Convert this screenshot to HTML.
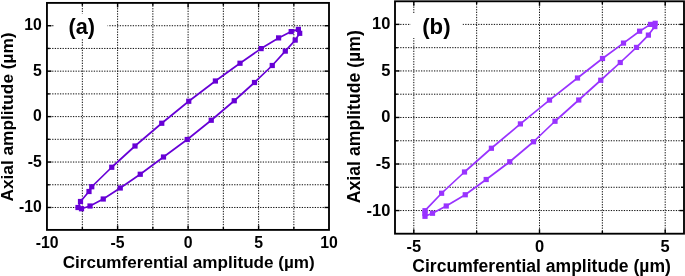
<!DOCTYPE html><html><head><meta charset="utf-8"><style>html,body{margin:0;padding:0;background:#fff}svg{display:block}text{font-family:"Liberation Sans",sans-serif;font-weight:bold;fill:#000}</style></head><body>
<svg style="will-change:transform" width="685" height="276" viewBox="0 0 685 276">
<rect width="685" height="276" fill="#fff"/>
<g stroke="#000" stroke-width="0.95" stroke-dasharray="1.3 1.3" fill="none">
<line x1="82.35" y1="2.9" x2="82.35" y2="229.9"/>
<line x1="117.60" y1="2.9" x2="117.60" y2="229.9"/>
<line x1="152.85" y1="2.9" x2="152.85" y2="229.9"/>
<line x1="188.10" y1="2.9" x2="188.10" y2="229.9"/>
<line x1="223.35" y1="2.9" x2="223.35" y2="229.9"/>
<line x1="258.60" y1="2.9" x2="258.60" y2="229.9"/>
<line x1="293.85" y1="2.9" x2="293.85" y2="229.9"/>
<line x1="46.95" y1="25.72" x2="329.0" y2="25.72"/>
<line x1="46.95" y1="48.44" x2="329.0" y2="48.44"/>
<line x1="46.95" y1="71.16" x2="329.0" y2="71.16"/>
<line x1="46.95" y1="93.88" x2="329.0" y2="93.88"/>
<line x1="46.95" y1="116.60" x2="329.0" y2="116.60"/>
<line x1="46.95" y1="139.32" x2="329.0" y2="139.32"/>
<line x1="46.95" y1="162.04" x2="329.0" y2="162.04"/>
<line x1="46.95" y1="184.76" x2="329.0" y2="184.76"/>
<line x1="46.95" y1="207.48" x2="329.0" y2="207.48"/>
</g>
<rect x="54" y="13.6" width="53.6" height="24.4" fill="#fff"/>
<path d="M78.00 207.50 L80.50 201.50 L89.00 191.50 L91.75 186.75 L111.75 167.25 L135.00 146.00 L161.75 123.25 L188.75 101.25 L215.40 81.00 L240.00 63.25 L261.10 48.60 L278.60 37.90 L291.20 31.60 L298.40 29.40 L299.70 33.30 L295.20 40.10 L285.30 51.10 L272.25 65.50 L254.50 82.50 L234.25 100.75 L211.25 120.25 L187.25 139.50 L163.50 157.00 L140.25 174.25 L120.25 188.00 L103.25 199.00 L90.00 206.00 L81.50 208.75 Z" fill="none" stroke="#6700d6" stroke-width="1.7" stroke-linejoin="round"/>
<g fill="#6700d6">
<rect x="75.40" y="204.90" width="5.2" height="5.2"/>
<rect x="77.90" y="198.90" width="5.2" height="5.2"/>
<rect x="86.40" y="188.90" width="5.2" height="5.2"/>
<rect x="89.15" y="184.15" width="5.2" height="5.2"/>
<rect x="109.15" y="164.65" width="5.2" height="5.2"/>
<rect x="132.40" y="143.40" width="5.2" height="5.2"/>
<rect x="159.15" y="120.65" width="5.2" height="5.2"/>
<rect x="186.15" y="98.65" width="5.2" height="5.2"/>
<rect x="212.80" y="78.40" width="5.2" height="5.2"/>
<rect x="237.40" y="60.65" width="5.2" height="5.2"/>
<rect x="258.50" y="46.00" width="5.2" height="5.2"/>
<rect x="276.00" y="35.30" width="5.2" height="5.2"/>
<rect x="288.60" y="29.00" width="5.2" height="5.2"/>
<rect x="295.80" y="26.80" width="5.2" height="5.2"/>
<rect x="297.10" y="30.70" width="5.2" height="5.2"/>
<rect x="292.60" y="37.50" width="5.2" height="5.2"/>
<rect x="282.70" y="48.50" width="5.2" height="5.2"/>
<rect x="269.65" y="62.90" width="5.2" height="5.2"/>
<rect x="251.90" y="79.90" width="5.2" height="5.2"/>
<rect x="231.65" y="98.15" width="5.2" height="5.2"/>
<rect x="208.65" y="117.65" width="5.2" height="5.2"/>
<rect x="184.65" y="136.90" width="5.2" height="5.2"/>
<rect x="160.90" y="154.40" width="5.2" height="5.2"/>
<rect x="137.65" y="171.65" width="5.2" height="5.2"/>
<rect x="117.65" y="185.40" width="5.2" height="5.2"/>
<rect x="100.65" y="196.40" width="5.2" height="5.2"/>
<rect x="87.40" y="203.40" width="5.2" height="5.2"/>
<rect x="78.90" y="206.15" width="5.2" height="5.2"/>
</g>
<g stroke="#000" stroke-width="1.4" fill="none">
<line x1="82.35" y1="229.9" x2="82.35" y2="227.1"/>
<line x1="82.35" y1="2.9" x2="82.35" y2="5.699999999999999"/>
<line x1="117.60" y1="229.9" x2="117.60" y2="225.4"/>
<line x1="117.60" y1="2.9" x2="117.60" y2="7.4"/>
<line x1="152.85" y1="229.9" x2="152.85" y2="227.1"/>
<line x1="152.85" y1="2.9" x2="152.85" y2="5.699999999999999"/>
<line x1="188.10" y1="229.9" x2="188.10" y2="225.4"/>
<line x1="188.10" y1="2.9" x2="188.10" y2="7.4"/>
<line x1="223.35" y1="229.9" x2="223.35" y2="227.1"/>
<line x1="223.35" y1="2.9" x2="223.35" y2="5.699999999999999"/>
<line x1="258.60" y1="229.9" x2="258.60" y2="225.4"/>
<line x1="258.60" y1="2.9" x2="258.60" y2="7.4"/>
<line x1="293.85" y1="229.9" x2="293.85" y2="227.1"/>
<line x1="293.85" y1="2.9" x2="293.85" y2="5.699999999999999"/>
<line x1="46.95" y1="25.72" x2="51.45" y2="25.72"/>
<line x1="329.0" y1="25.72" x2="324.5" y2="25.72"/>
<line x1="46.95" y1="48.44" x2="49.75" y2="48.44"/>
<line x1="329.0" y1="48.44" x2="326.2" y2="48.44"/>
<line x1="46.95" y1="71.16" x2="51.45" y2="71.16"/>
<line x1="329.0" y1="71.16" x2="324.5" y2="71.16"/>
<line x1="46.95" y1="93.88" x2="49.75" y2="93.88"/>
<line x1="329.0" y1="93.88" x2="326.2" y2="93.88"/>
<line x1="46.95" y1="116.60" x2="51.45" y2="116.60"/>
<line x1="329.0" y1="116.60" x2="324.5" y2="116.60"/>
<line x1="46.95" y1="139.32" x2="49.75" y2="139.32"/>
<line x1="329.0" y1="139.32" x2="326.2" y2="139.32"/>
<line x1="46.95" y1="162.04" x2="51.45" y2="162.04"/>
<line x1="329.0" y1="162.04" x2="324.5" y2="162.04"/>
<line x1="46.95" y1="184.76" x2="49.75" y2="184.76"/>
<line x1="329.0" y1="184.76" x2="326.2" y2="184.76"/>
<line x1="46.95" y1="207.48" x2="51.45" y2="207.48"/>
<line x1="329.0" y1="207.48" x2="324.5" y2="207.48"/>
</g>
<rect x="46.95" y="2.9" width="282.05" height="227.0" fill="none" stroke="#000" stroke-width="1.85"/>
<text x="81.7" y="33.6" font-size="21.7" text-anchor="middle">(a)</text>
<text transform="translate(41.9 30.32) scale(0.935 1)" font-size="16.9" text-anchor="end">10</text>
<text transform="translate(41.9 75.76) scale(0.935 1)" font-size="16.9" text-anchor="end">5</text>
<text transform="translate(41.9 121.20) scale(0.935 1)" font-size="16.9" text-anchor="end">0</text>
<text transform="translate(41.9 166.64) scale(0.935 1)" font-size="16.9" text-anchor="end">-5</text>
<text transform="translate(41.9 212.08) scale(0.935 1)" font-size="16.9" text-anchor="end">-10</text>
<text transform="translate(47.10 247.8) scale(0.925 1)" font-size="17.1" text-anchor="middle">-10</text>
<text transform="translate(117.60 247.8) scale(0.925 1)" font-size="17.1" text-anchor="middle">-5</text>
<text transform="translate(188.10 247.8) scale(0.925 1)" font-size="17.1" text-anchor="middle">0</text>
<text transform="translate(258.60 247.8) scale(0.925 1)" font-size="17.1" text-anchor="middle">5</text>
<text transform="translate(329.10 247.8) scale(0.925 1)" font-size="17.1" text-anchor="middle">10</text>
<text x="188.7" y="268.0" font-size="17.1" text-anchor="middle">Circumferential amplitude (µm)</text>
<text transform="translate(12.6 117.0) rotate(-90)" font-size="17.25" text-anchor="middle">Axial amplitude (µm)</text>
<g stroke="#000" stroke-width="0.95" stroke-dasharray="1.3 1.3" fill="none">
<line x1="413.80" y1="1.3" x2="413.80" y2="233.7"/>
<line x1="476.65" y1="1.3" x2="476.65" y2="233.7"/>
<line x1="539.50" y1="1.3" x2="539.50" y2="233.7"/>
<line x1="602.35" y1="1.3" x2="602.35" y2="233.7"/>
<line x1="665.20" y1="1.3" x2="665.20" y2="233.7"/>
<line x1="395.0" y1="24.40" x2="684.0" y2="24.40"/>
<line x1="395.0" y1="47.67" x2="684.0" y2="47.67"/>
<line x1="395.0" y1="70.94" x2="684.0" y2="70.94"/>
<line x1="395.0" y1="94.21" x2="684.0" y2="94.21"/>
<line x1="395.0" y1="117.48" x2="684.0" y2="117.48"/>
<line x1="395.0" y1="140.75" x2="684.0" y2="140.75"/>
<line x1="395.0" y1="164.02" x2="684.0" y2="164.02"/>
<line x1="395.0" y1="187.29" x2="684.0" y2="187.29"/>
<line x1="395.0" y1="210.56" x2="684.0" y2="210.56"/>
</g>
<rect x="410.5" y="13" width="52" height="25" fill="#fff"/>
<path d="M425.00 210.70 L441.60 193.25 L464.50 172.00 L491.40 148.25 L520.40 123.90 L549.50 100.10 L577.50 78.00 L602.50 58.50 L623.50 43.10 L639.60 31.20 L650.50 24.40 L655.20 23.30 L654.80 26.60 L648.40 35.10 L636.50 47.40 L620.25 62.50 L600.75 80.25 L578.75 100.00 L555.00 121.25 L533.50 141.75 L509.75 161.75 L486.20 179.50 L465.25 194.75 L446.25 206.00 L432.50 213.25 L425.00 216.30 L425.00 213.50 Z" fill="none" stroke="#9933ff" stroke-width="1.7" stroke-linejoin="round"/>
<g fill="#9933ff">
<rect x="422.40" y="208.10" width="5.2" height="5.2"/>
<rect x="439.00" y="190.65" width="5.2" height="5.2"/>
<rect x="461.90" y="169.40" width="5.2" height="5.2"/>
<rect x="488.80" y="145.65" width="5.2" height="5.2"/>
<rect x="517.80" y="121.30" width="5.2" height="5.2"/>
<rect x="546.90" y="97.50" width="5.2" height="5.2"/>
<rect x="574.90" y="75.40" width="5.2" height="5.2"/>
<rect x="599.90" y="55.90" width="5.2" height="5.2"/>
<rect x="620.90" y="40.50" width="5.2" height="5.2"/>
<rect x="637.00" y="28.60" width="5.2" height="5.2"/>
<rect x="647.90" y="21.80" width="5.2" height="5.2"/>
<rect x="652.60" y="20.70" width="5.2" height="5.2"/>
<rect x="652.20" y="24.00" width="5.2" height="5.2"/>
<rect x="645.80" y="32.50" width="5.2" height="5.2"/>
<rect x="633.90" y="44.80" width="5.2" height="5.2"/>
<rect x="617.65" y="59.90" width="5.2" height="5.2"/>
<rect x="598.15" y="77.65" width="5.2" height="5.2"/>
<rect x="576.15" y="97.40" width="5.2" height="5.2"/>
<rect x="552.40" y="118.65" width="5.2" height="5.2"/>
<rect x="530.90" y="139.15" width="5.2" height="5.2"/>
<rect x="507.15" y="159.15" width="5.2" height="5.2"/>
<rect x="483.60" y="176.90" width="5.2" height="5.2"/>
<rect x="462.65" y="192.15" width="5.2" height="5.2"/>
<rect x="443.65" y="203.40" width="5.2" height="5.2"/>
<rect x="429.90" y="210.65" width="5.2" height="5.2"/>
<rect x="422.40" y="213.70" width="5.2" height="5.2"/>
<rect x="422.40" y="210.90" width="5.2" height="5.2"/>
</g>
<g stroke="#000" stroke-width="1.4" fill="none">
<line x1="413.80" y1="233.7" x2="413.80" y2="229.2"/>
<line x1="413.80" y1="1.3" x2="413.80" y2="5.8"/>
<line x1="476.65" y1="233.7" x2="476.65" y2="230.89999999999998"/>
<line x1="476.65" y1="1.3" x2="476.65" y2="4.1"/>
<line x1="539.50" y1="233.7" x2="539.50" y2="229.2"/>
<line x1="539.50" y1="1.3" x2="539.50" y2="5.8"/>
<line x1="602.35" y1="233.7" x2="602.35" y2="230.89999999999998"/>
<line x1="602.35" y1="1.3" x2="602.35" y2="4.1"/>
<line x1="665.20" y1="233.7" x2="665.20" y2="229.2"/>
<line x1="665.20" y1="1.3" x2="665.20" y2="5.8"/>
<line x1="395.0" y1="24.40" x2="399.5" y2="24.40"/>
<line x1="684.0" y1="24.40" x2="679.5" y2="24.40"/>
<line x1="395.0" y1="47.67" x2="397.8" y2="47.67"/>
<line x1="684.0" y1="47.67" x2="681.2" y2="47.67"/>
<line x1="395.0" y1="70.94" x2="399.5" y2="70.94"/>
<line x1="684.0" y1="70.94" x2="679.5" y2="70.94"/>
<line x1="395.0" y1="94.21" x2="397.8" y2="94.21"/>
<line x1="684.0" y1="94.21" x2="681.2" y2="94.21"/>
<line x1="395.0" y1="117.48" x2="399.5" y2="117.48"/>
<line x1="684.0" y1="117.48" x2="679.5" y2="117.48"/>
<line x1="395.0" y1="140.75" x2="397.8" y2="140.75"/>
<line x1="684.0" y1="140.75" x2="681.2" y2="140.75"/>
<line x1="395.0" y1="164.02" x2="399.5" y2="164.02"/>
<line x1="684.0" y1="164.02" x2="679.5" y2="164.02"/>
<line x1="395.0" y1="187.29" x2="397.8" y2="187.29"/>
<line x1="684.0" y1="187.29" x2="681.2" y2="187.29"/>
<line x1="395.0" y1="210.56" x2="399.5" y2="210.56"/>
<line x1="684.0" y1="210.56" x2="679.5" y2="210.56"/>
</g>
<rect x="395.0" y="1.3" width="289.0" height="232.39999999999998" fill="none" stroke="#000" stroke-width="1.85"/>
<text x="436.4" y="33.5" font-size="22.2" text-anchor="middle">(b)</text>
<text transform="translate(390.4 29.35) scale(0.96 1)" font-size="17.15" text-anchor="end">10</text>
<text transform="translate(390.4 75.89) scale(0.96 1)" font-size="17.15" text-anchor="end">5</text>
<text transform="translate(390.4 122.43) scale(0.96 1)" font-size="17.15" text-anchor="end">0</text>
<text transform="translate(390.4 168.97) scale(0.96 1)" font-size="17.15" text-anchor="end">-5</text>
<text transform="translate(390.4 215.51) scale(0.96 1)" font-size="17.15" text-anchor="end">-10</text>
<text transform="translate(413.80 251.9) scale(0.96 1)" font-size="17.15" text-anchor="middle">-5</text>
<text transform="translate(539.50 251.9) scale(0.96 1)" font-size="17.15" text-anchor="middle">0</text>
<text transform="translate(665.20 251.9) scale(0.96 1)" font-size="17.15" text-anchor="middle">5</text>
<text x="541.6" y="272.0" font-size="17.55" text-anchor="middle">Circumferential amplitude (µm)</text>
<text transform="translate(359.9 116.7) rotate(-90)" font-size="17.67" text-anchor="middle">Axial amplitude (µm)</text>
</svg></body></html>
